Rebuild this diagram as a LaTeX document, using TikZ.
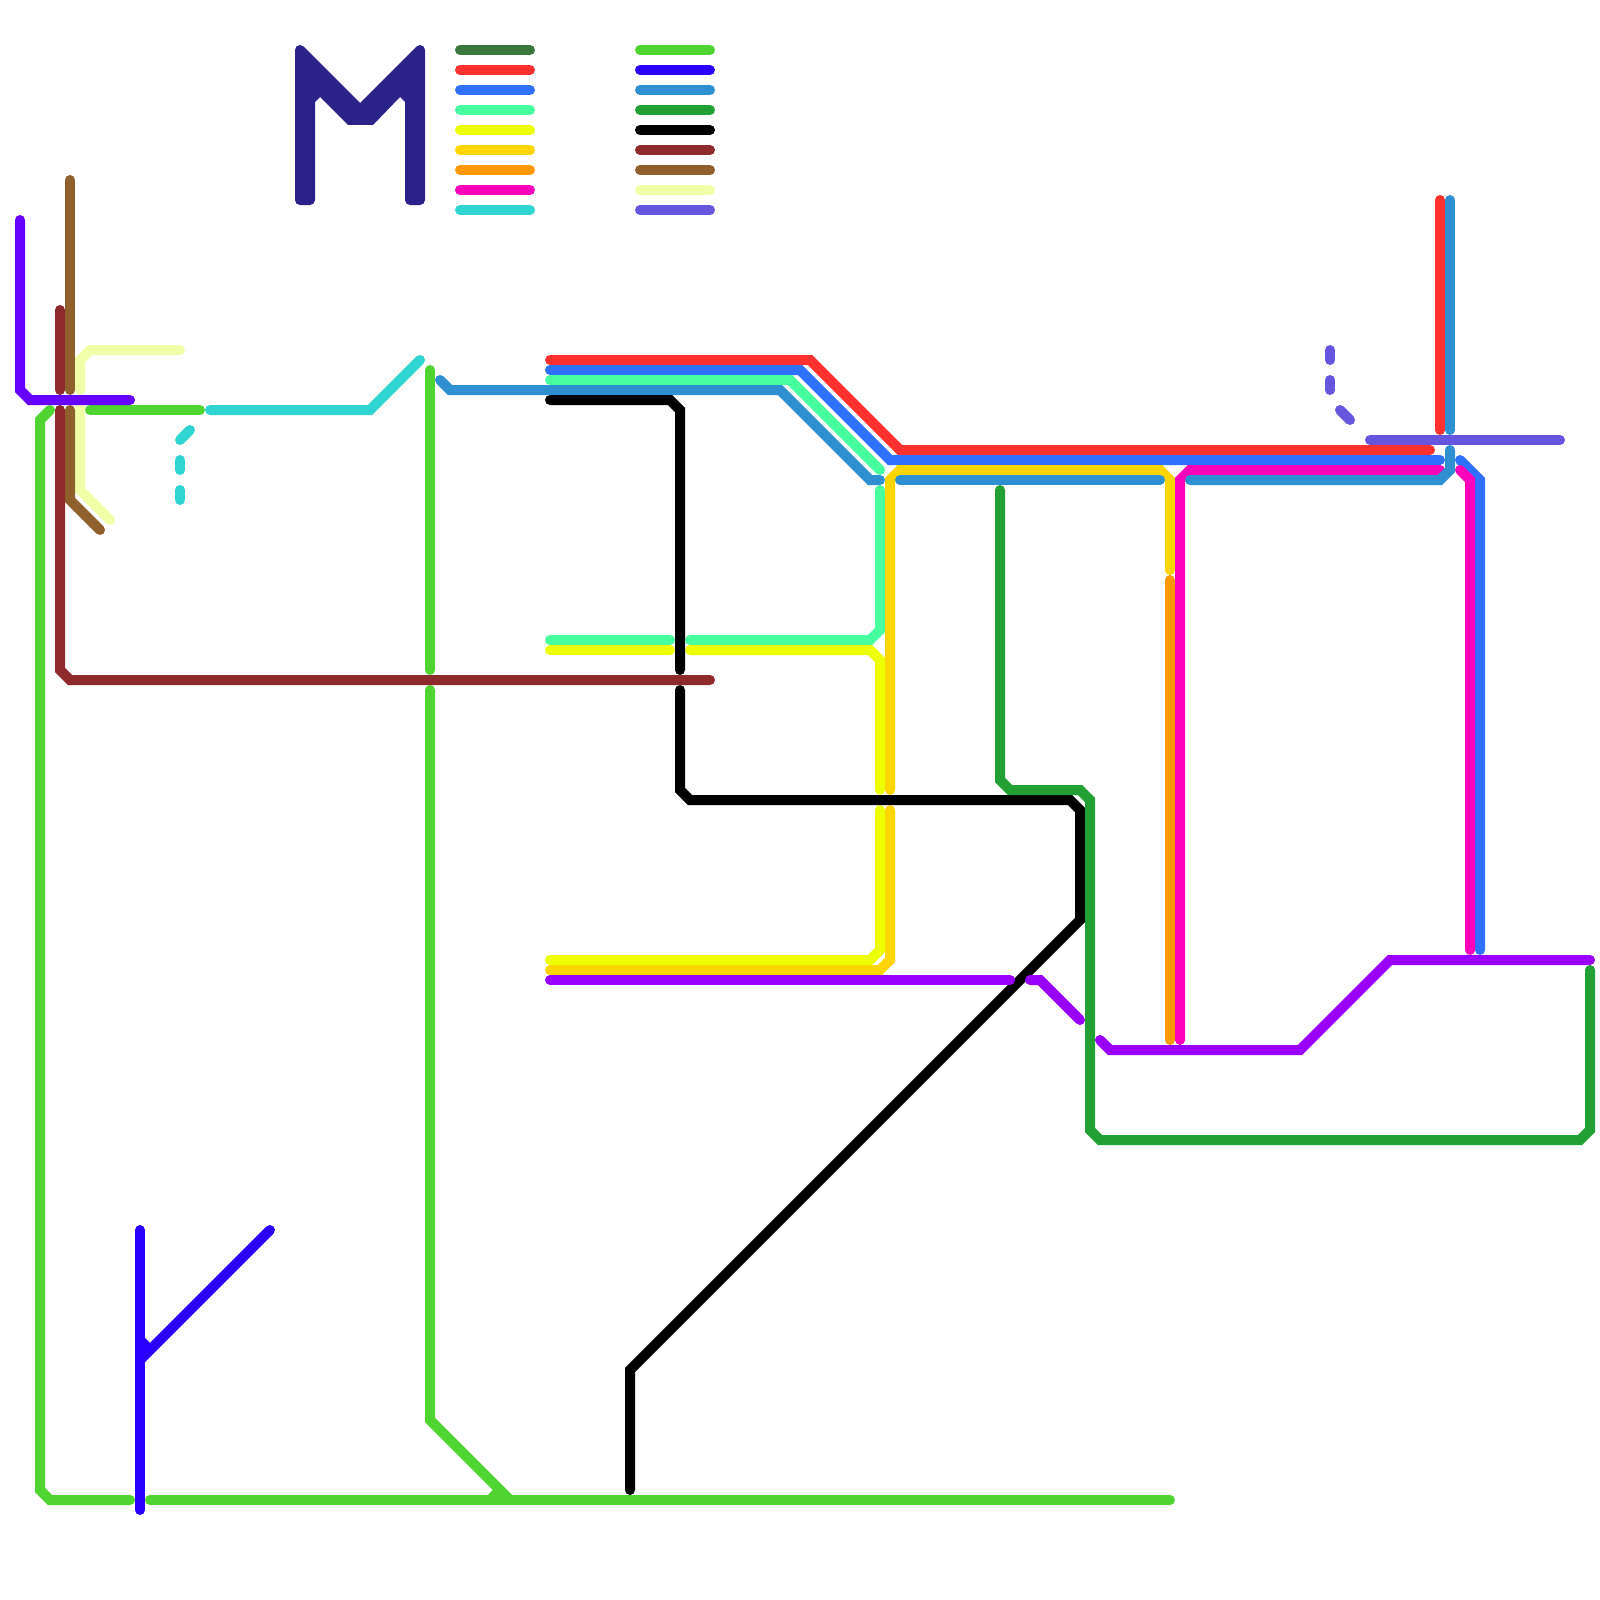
\documentclass[tikz,border=0pt]{standalone}
\definecolor{cOlive}{HTML}{3A783C}
\definecolor{cRed}{HTML}{FF3030}
\definecolor{cBlue}{HTML}{3070FF}
\definecolor{cMint}{HTML}{48FFA0}
\definecolor{cYellow}{HTML}{EEFF00}
\definecolor{cGold}{HTML}{FFD500}
\definecolor{cOrange}{HTML}{FF9900}
\definecolor{cMagenta}{HTML}{FF00BB}
\definecolor{cTeal}{HTML}{30D4D0}
\definecolor{cGreen}{HTML}{4FD431}
\definecolor{cIndigo}{HTML}{2A00FF}
\definecolor{cMid}{HTML}{2E90D0}
\definecolor{cForest}{HTML}{22A034}
\definecolor{cMaroon}{HTML}{8F2A2C}
\definecolor{cBrown}{HTML}{90602C}
\definecolor{cPale}{HTML}{F0FFA8}
\definecolor{cSlate}{HTML}{6655DD}
\definecolor{cViolet}{HTML}{6600FF}
\definecolor{cPurple}{HTML}{9900FF}
\definecolor{cLogo}{HTML}{2A2288}
\tikzset{metro/.style={line width=5pt,line cap=round,line join=miter,draw=#1},
  stub/.style={line width=5pt,line cap=butt,draw=#1}}
\begin{document}
\begin{tikzpicture}[x=0.5pt,y=-0.5pt]
\useasboundingbox[fill=white] (0,0) rectangle (1600,1600);
% logo
\fill[cLogo] (295,50) arc[start angle=180,end angle=45,radius=2.5pt] -- (360,103) -- (416.5,46.5) arc[start angle=135,end angle=0,radius=2.5pt] [rounded corners=2.5pt] -- (425,205) -- (405,205) [sharp corners] -- (405,102) -- (400,97) -- (373,125) -- (348,125) -- (320,97) -- (315,102) [rounded corners=2.5pt] -- (315,205) -- (295,205) [sharp corners] -- cycle;
% legend
\foreach \yy/\cc in {50/cOlive,70/cRed,90/cBlue,110/cMint,130/cYellow,150/cGold,170/cOrange,190/cMagenta,210/cTeal}
  \draw[metro=\cc] (460,\yy) -- (530,\yy);
\foreach \yy/\cc in {50/cGreen,70/cIndigo,90/cMid,110/cForest,130/black,150/cMaroon,170/cBrown,190/cPale,210/cSlate}
  \draw[metro=\cc] (640,\yy) -- (710,\yy);
% red
\draw[metro=cRed] (550,360) -- (810,360) -- (900,450) -- (1430,450);
\draw[metro=cRed] (1440,200) -- (1440,430);
% blue
\draw[metro=cBlue] (550,370) -- (800,370) -- (890,460) -- (1440,460);
\draw[metro=cBlue] (1460,460) -- (1480,480) -- (1480,950);
% mint
\draw[metro=cMint] (550,380) -- (790,380) -- (880,470);
\draw[metro=cMint] (880,490) -- (880,630) -- (870,640) -- (690,640);
\draw[metro=cMint] (550,640) -- (670,640);
% yellow
\draw[metro=cYellow] (550,650) -- (670,650);
\draw[metro=cYellow] (690,650) -- (870,650) -- (880,660) -- (880,790);
\draw[metro=cYellow] (880,810) -- (880,950) -- (870,960) -- (550,960);
% gold
\draw[metro=cGold] (890,790) -- (890,480) -- (900,470) -- (1160,470) -- (1170,480) -- (1170,570);
\draw[metro=cGold] (890,810) -- (890,960) -- (880,970) -- (550,970);
% orange
\draw[metro=cOrange] (1170,580) -- (1170,1040);
% magenta
\draw[metro=cMagenta] (1180,1040) -- (1180,480) -- (1190,470) -- (1440,470);
\draw[metro=cMagenta] (1460,470) -- (1470,480) -- (1470,950);
% teal
\draw[metro=cTeal] (210,410) -- (370,410) -- (420,360);
\draw[metro=cTeal] (180,440) -- (190,430);
\draw[metro=cTeal] (180,460) -- (180,470);
\draw[metro=cTeal] (180,490) -- (180,500);
% green
\draw[metro=cGreen] (50,410) -- (40,420) -- (40,1490) -- (50,1500) -- (130,1500);
\draw[metro=cGreen] (90,410) -- (200,410);
\draw[metro=cGreen] (150,1500) -- (1170,1500);
\draw[metro=cGreen] (430,370) -- (430,670);
\draw[metro=cGreen] (430,690) -- (430,1420) -- (510,1500);
\draw[stub=cGreen] (490,1500) -- (500,1490);
% indigo
\draw[metro=cIndigo] (140,1230) -- (140,1510);
\draw[metro=cIndigo] (270,1230) -- (140,1360);
\draw[stub=cIndigo] (140,1340) -- (150,1350);
% mid blue
\draw[metro=cMid] (440,380) -- (450,390) -- (780,390) -- (870,480) -- (880,480);
\draw[metro=cMid] (900,480) -- (1160,480);
\draw[metro=cMid] (1450,200) -- (1450,430);
\draw[metro=cMid] (1450,450) -- (1450,470) -- (1440,480) -- (1190,480);
% black
\draw[metro=black] (550,400) -- (670,400) -- (680,410) -- (680,670);
\draw[metro=black] (680,690) -- (680,790) -- (690,800) -- (1070,800) -- (1080,810) -- (1080,920) -- (630,1370) -- (630,1490);
% forest
\draw[metro=cForest] (1000,490) -- (1000,780) -- (1010,790) -- (1080,790) -- (1090,800) -- (1090,1130) -- (1100,1140) -- (1580,1140) -- (1590,1130) -- (1590,970);
% pale
\draw[metro=cPale] (80,390) -- (80,360) -- (90,350) -- (180,350);
\draw[metro=cPale] (80,400) -- (80,490) -- (110,520);
% brown
\draw[metro=cBrown] (70,180) -- (70,390);
\draw[metro=cBrown] (70,410) -- (70,500) -- (100,530);
% maroon
\draw[metro=cMaroon] (60,310) -- (60,390);
\draw[metro=cMaroon] (60,410) -- (60,670) -- (70,680) -- (710,680);
% violet
\draw[metro=cViolet] (20,220) -- (20,390) -- (30,400) -- (130,400);
% purple
\draw[metro=cPurple] (550,980) -- (1010,980);
\draw[metro=cPurple] (1030,980) -- (1040,980) -- (1080,1020);
\draw[metro=cPurple] (1100,1040) -- (1110,1050) -- (1300,1050) -- (1390,960) -- (1590,960);
% slate
\draw[metro=cSlate] (1330,350) -- (1330,360);
\draw[metro=cSlate] (1330,380) -- (1330,390);
\draw[metro=cSlate] (1340,410) -- (1350,420);
\draw[metro=cSlate] (1370,440) -- (1560,440);
\end{tikzpicture}
\end{document}
